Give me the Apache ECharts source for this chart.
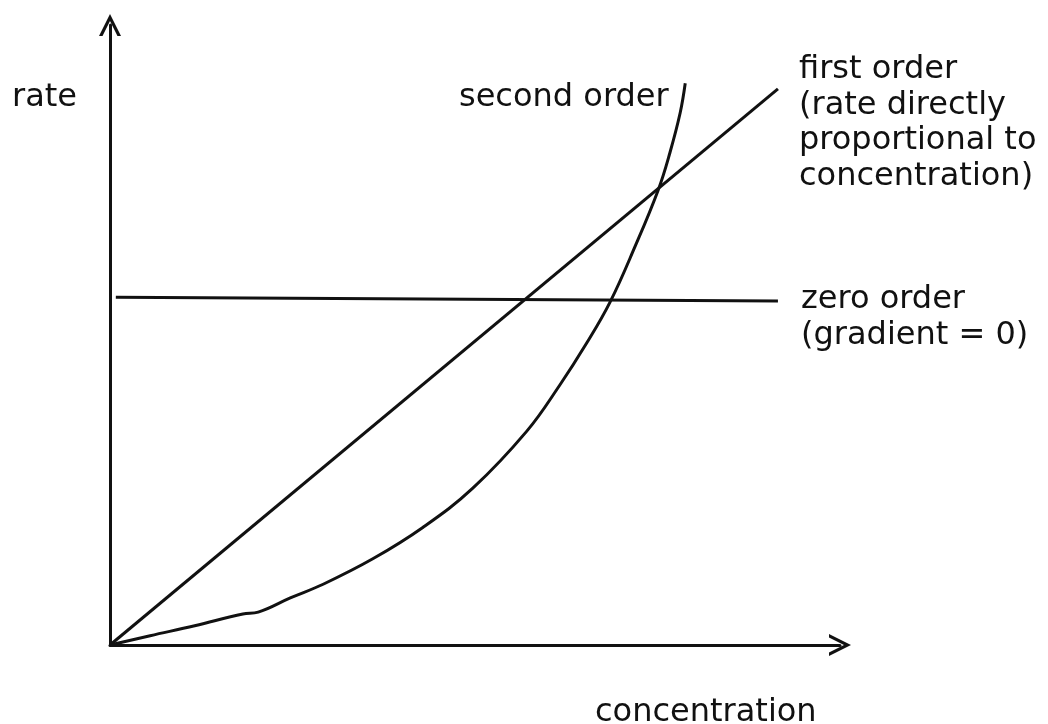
<!DOCTYPE html>
<html>
<head>
<meta charset="utf-8">
<title>rate vs concentration</title>
<script src="https://cdn.jsdelivr.net/npm/echarts/dist/echarts.min.js"></script>
<style>
  html, body { margin: 0; padding: 0; background: #fff; }
  #echarts { width: 1048px; height: 724px; }
</style>
</head>
<body>
<div id="echarts"></div>
<script>
// hand drawn sketch (arbitrary units 0-10)
var zeroOrder = [[0.08, 5.61], [9.15, 5.55]]
var firstOrder = [[0, 0], [9.15, 8.97]]
var secondOrder = [
  [0, 0], [0.55, 0.15], [1.16, 0.31], [1.82, 0.50], [2.03, 0.53],
  [2.47, 0.76], [2.92, 0.98], [3.60, 1.39], [4.29, 1.90], [4.97, 2.53],
  [5.71, 3.45], [6.16, 4.19], [6.53, 4.87], [6.85, 5.53], [7.19, 6.42],
  [7.51, 7.34], [7.67, 7.94], [7.81, 8.58], [7.88, 9.06]
]

var ink = '#111'
var font = '"DejaVu Sans", Verdana, sans-serif'
var arrow = 'path://M0,10 L5,0 L10,10 L8.4,10 L5,3.2 L1.6,10 Z'

function label(x, y, text) {
  return {
    type: 'text',
    left: x,
    top: y,
    style: {
      text: text,
      fill: ink,
      font: '32px ' + font,
      lineHeight: 35.5
    }
  }
}

function line(name, data, smooth) {
  return {
    name: name,
    type: 'line',
    data: data,
    smooth: smooth,
    showSymbol: false,
    silent: true,
    lineStyle: { color: ink, width: 3 }
  }
}

var axisStyle = {
  show: true,
  symbol: ['none', arrow],
  symbolSize: [24, 22],
  lineStyle: { color: ink, width: 3 }
}

var myecharts = echarts.init(document.getElementById('echarts'))

var option = {
  animation: false,
  backgroundColor: '#fff',
  grid: { left: 110, right: 208, top: 25, bottom: 79 },
  xAxis: {
    type: 'value', min: 0, max: 10,
    axisLine: axisStyle,
    axisTick: { show: false }, axisLabel: { show: false }, splitLine: { show: false }
  },
  yAxis: {
    type: 'value', min: 0, max: 10,
    axisLine: axisStyle,
    axisTick: { show: false }, axisLabel: { show: false }, splitLine: { show: false }
  },
  series: [
    line('zero order', zeroOrder, false),
    line('first order', firstOrder, false),
    line('second order', secondOrder, 0.4)
  ],
  graphic: [
    label(12, 80, 'rate'),
    label(459, 80, 'second order'),
    label(799, 52, 'first order\n(rate directly\nproportional to\nconcentration)'),
    label(801, 282, 'zero order\n(gradient = 0)'),
    label(595, 695, 'concentration')
  ]
}

myecharts.setOption(option)
</script>
</body>
</html>
